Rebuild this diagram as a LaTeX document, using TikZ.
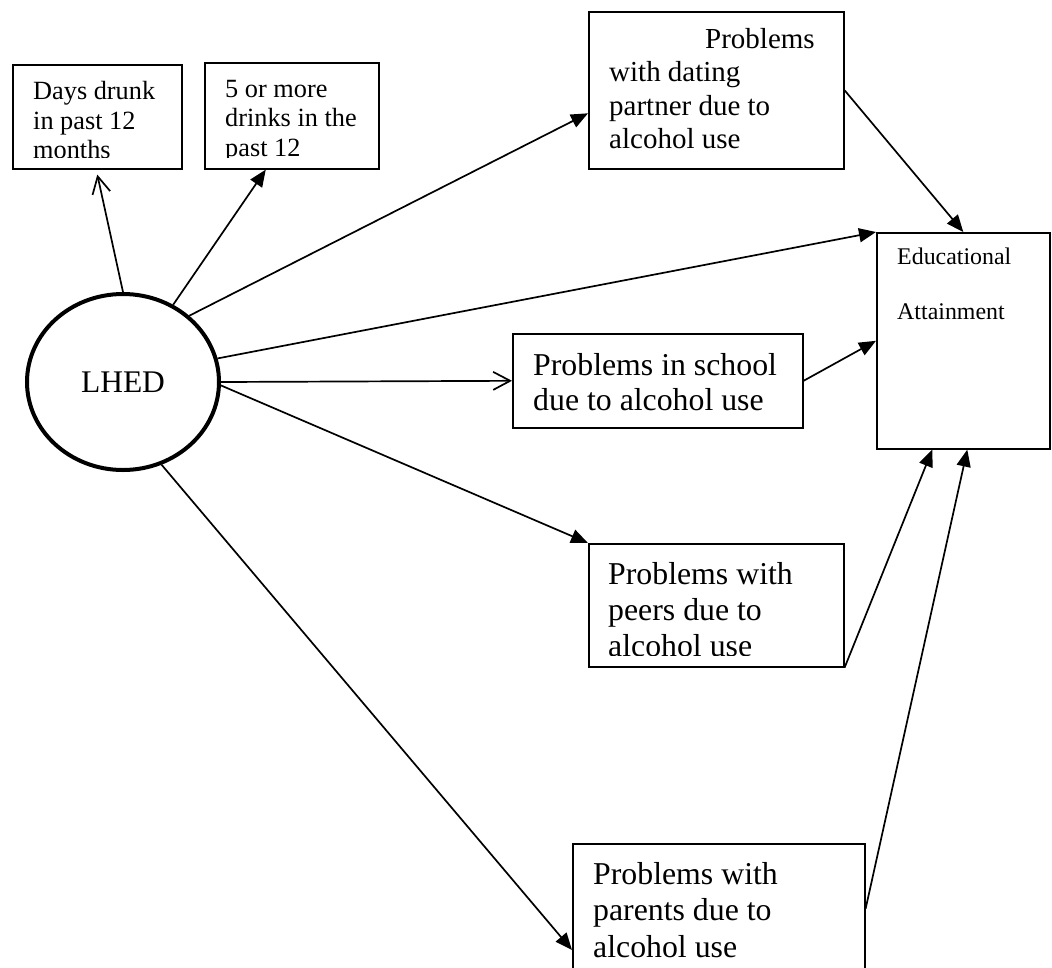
\documentclass[tikz,border=0pt]{standalone}
\usepackage{fontspec}
\setmainfont{Liberation Serif}
\usetikzlibrary{arrows.meta,shapes.geometric}

\tikzset{
  box/.style={draw, line width=1.6pt, anchor=north west, inner sep=0pt},
  bigtext/.style={anchor=base west, inner sep=0pt, align=left, font=\fontsize{31.8}{35}\selectfont},
  smalltext/.style={anchor=base west, inner sep=0pt, align=left, font=\fontsize{26.3}{29.5}\selectfont},
  link/.style={line width=1.7pt, -{Triangle[length=17pt,width=14pt]}},
  openlink/.style={line width=1.7pt, -{Straight Barb[length=17pt,width=18pt]}}
}

\begin{document}
\begin{tikzpicture}[x=1pt,y=-1pt]
  \clip (0,0) rectangle (1052,967);
  \node[ellipse, draw, line width=4pt, minimum width=192pt, minimum height=176pt,
        font=\fontsize{31.5}{35}\selectfont] (lhed) at (123,382) {LHED};

  \node[box, minimum width=169pt, minimum height=104pt] (days) at (12,64) {};
  \node[box, minimum width=174pt, minimum height=106pt] (more) at (204,62) {};
  \node[box, minimum width=255pt, minimum height=157pt] (dating) at (588,11) {};
  \node[box, minimum width=290pt, minimum height=94pt] (school) at (512,333) {};
  \node[box, minimum width=255pt, minimum height=123pt] (peers) at (588,543) {};
  \node[box, minimum width=292pt, minimum height=140pt] (parents) at (572,843) {};
  \node[box, minimum width=173pt, minimum height=216pt] (edu) at (876,232) {};

  % box texts (placed by last baseline), cut off where the boxes cut them
  \begin{scope}
    \clip (days.north west) rectangle ([yshift=12.5pt]days.south east);
    \node[smalltext] (daystext) at (33,158.5) {Days drunk\\in past 12\\months};
  \end{scope}
  \begin{scope}
    \clip (more.north west) rectangle ([yshift=12pt]more.south east);
    \node[smalltext] (moretext) at (225,156) {5 or more\\drinks in the\\past 12};
  \end{scope}
  \node[bigtext, font=\fontsize{29}{33.3}\selectfont] (datingtext) at (609,148.4)
    {\hspace*{96pt}Problems\\with dating\\partner due to\\alcohol use};
  \node[bigtext] (schooltext) at (533,410) {Problems in school\\due to alcohol use};
  \begin{scope}
    \clip (peers.north west) rectangle ([yshift=12pt]peers.south east);
    \node[bigtext, font=\fontsize{31.8}{36}\selectfont] (peerstext) at (608,656)
      {Problems with\\peers due to\\alcohol use};
  \end{scope}
  \node[bigtext, font=\fontsize{31.8}{36.5}\selectfont] (parentstext) at (593,957)
    {Problems with\\parents due to\\alcohol use};
  \node[anchor=base west, inner sep=0pt, align=left, font=\fontsize{23.9}{55}\selectfont]
    (edutext) at (897,319) {Educational\\Attainment};

  \draw[openlink] (lhed.90) -- ([yshift=-5pt]days.south);
  \draw[link] (lhed.57) -- ([xshift=-26pt]more.south);
  \draw[link] (lhed.45) -- ([yshift=-23pt]dating.west);
  \draw[link] (lhed.14) -- (edu.north west);
  \draw[openlink] (lhed.east) -- (school.west);
  \draw[link] (lhed.-2) -- (peers.north west);
  \draw[link] (lhed.-65) -- ([yshift=-107pt]parents.north west);
  \draw[link] (dating.east) -- (edu.north);
  \draw[link] (school.east) -- (edu.west);
  \draw[link] (peers.south east) -- ([xshift=-31pt]edu.south);
  \draw[link] ([yshift=5pt]parents.east) -- ([xshift=4pt]edu.south);
\end{tikzpicture}
\end{document}
